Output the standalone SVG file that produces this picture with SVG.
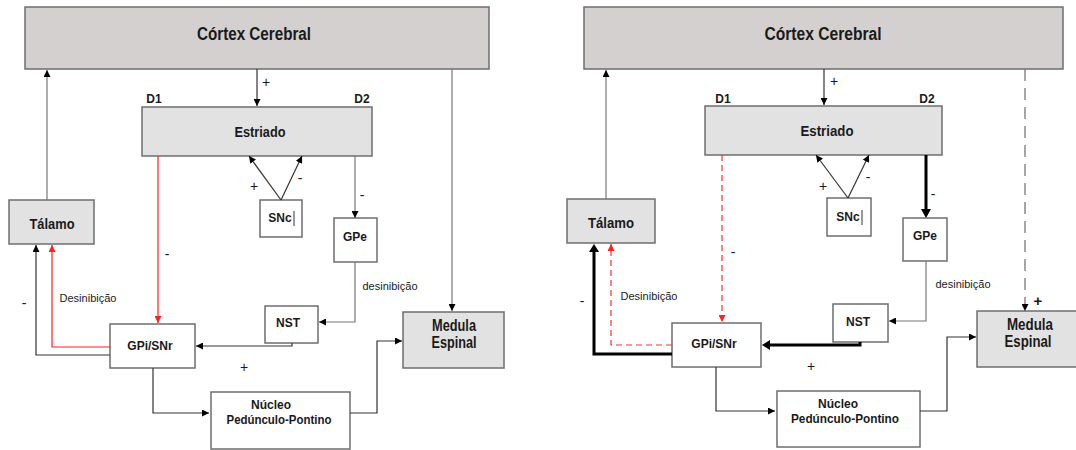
<svg xmlns="http://www.w3.org/2000/svg" width="1076" height="450" viewBox="0 0 1076 450">
<style>
.box{stroke:#6e6e6e;stroke-width:1.5;fill:#fff}
.g1{fill:#d4d0cf}
.g2{fill:#e2e2e2}
text{font-family:"Liberation Sans",Arial,sans-serif;fill:#1a1a1a;text-anchor:middle}
.big{font-size:17.5px;font-weight:bold}
.mid{font-size:15px;font-weight:bold}
.med{font-size:16px;font-weight:bold}
.sm{font-size:12px;font-weight:bold}
.lab{font-size:11px}
.sign{font-size:14px}
.ln{fill:none;stroke:#333;stroke-width:1.2}
.gl{fill:none;stroke:#777;stroke-width:1.2}
.red{fill:none;stroke:#ff2020;stroke-width:1.2}
.redd{fill:none;stroke:#ff3030;stroke-width:1.2;stroke-dasharray:6 4}
.thick{fill:none;stroke:#000;stroke-width:3}
.dash{fill:none;stroke:#777;stroke-width:1.3;stroke-dasharray:12 7}
</style>
<defs>
<marker id="ab" viewBox="0 0 10 10" refX="10" refY="5" markerWidth="7" markerHeight="7" markerUnits="userSpaceOnUse" orient="auto"><path d="M0,0 L10,5 L0,10 z" fill="#000"/></marker>
<marker id="ar" viewBox="0 0 10 10" refX="10" refY="5" markerWidth="7" markerHeight="7" markerUnits="userSpaceOnUse" orient="auto"><path d="M0,0 L10,5 L0,10 z" fill="#ff2020"/></marker>
</defs>

<!-- LEFT PANEL -->
<g id="L-cortex"><rect class="box g1" x="25" y="7" width="464" height="62"/><text class="big" x="254" y="40" textLength="114" lengthAdjust="spacingAndGlyphs">Córtex Cerebral</text></g>
<g id="L-estriado"><rect class="box g2" x="142" y="107" width="230" height="49"/><text class="mid" x="260" y="137" textLength="51" lengthAdjust="spacingAndGlyphs">Estriado</text><text class="sm" x="154" y="103">D1</text><text class="sm" x="362" y="103">D2</text></g>
<g id="L-talamo"><rect class="box g2" x="9" y="200" width="85" height="44"/><text class="mid" x="52" y="229" textLength="45" lengthAdjust="spacingAndGlyphs">Tálamo</text></g>
<g id="L-snc"><rect class="box" x="260" y="200" width="42" height="37"/><text class="sm" x="280" y="222">SNc</text><line x1="294" y1="211" x2="294" y2="226" stroke="#333" stroke-width="1"/></g>
<g id="L-gpe"><rect class="box" x="334" y="218" width="43" height="44"/><text class="sm" x="355" y="241">GPe</text></g>
<g id="L-nst"><rect class="box" x="265" y="306" width="53" height="37"/><text class="sm" x="288" y="327">NST</text></g>
<g id="L-gpi"><rect class="box" x="110" y="324" width="85" height="44"/><text class="sm" x="150" y="350">GPi/SNr</text></g>
<g id="L-nucleo"><rect class="box" x="211" y="392" width="139" height="57"/><text class="sm" x="271" y="409">Núcleo</text><text class="sm" x="279" y="424" textLength="105" lengthAdjust="spacingAndGlyphs">Pedúnculo-Pontino</text></g>
<g id="L-medula"><rect class="box g2" x="403" y="312" width="101" height="56"/><text class="med" x="454" y="331" textLength="44" lengthAdjust="spacingAndGlyphs">Medula</text><text class="med" x="454" y="348" textLength="45" lengthAdjust="spacingAndGlyphs">Espinal</text></g>

<g id="L-connectors">
<path class="ln" d="M257,69 V106" marker-end="url(#ab)"/>
<path class="gl" d="M47,200 V70" marker-end="url(#ab)"/>
<path class="gl" d="M452,69 V311" marker-end="url(#ab)"/>
<path class="ln" d="M281,200 L249,156" marker-end="url(#ab)"/>
<path class="ln" d="M281,200 L302,156" marker-end="url(#ab)"/>
<path class="gl" d="M355,156 V218" marker-end="url(#ab)"/>
<path class="gl" d="M355,262 V322 H319" marker-end="url(#ab)"/>
<path class="ln" d="M292,343 V346 H196" marker-end="url(#ab)"/>
<path class="red" d="M158,156 V323" marker-end="url(#ar)"/>
<path class="red" d="M110,347 H52 V245" marker-end="url(#ar)"/>
<path class="ln" d="M110,355 H36 V245" marker-end="url(#ab)"/>
<path class="ln" d="M153,368 V413 H209" marker-end="url(#ab)"/>
<path class="ln" d="M350,413 H377 V341 H402" marker-end="url(#ab)"/>
</g>
<g id="L-labels">
<text class="sign" x="266" y="87">+</text>
<text class="sign" x="254" y="191">+</text>
<text class="sign" x="300" y="183">-</text>
<text class="sign" x="362" y="200">-</text>
<text class="sign" x="167" y="259">-</text>
<text class="sign" x="24" y="308">-</text>
<text class="sign" x="244" y="372">+</text>
<text class="lab" x="88" y="302">Desinibição</text>
<text class="lab" x="390" y="290">desinibição</text>
</g>

<!-- RIGHT PANEL -->
<g id="R-cortex"><rect class="box g1" x="584" y="7" width="479" height="62"/><text class="big" x="823" y="40" textLength="117" lengthAdjust="spacingAndGlyphs">Córtex Cerebral</text></g>
<g id="R-estriado"><rect class="box g2" x="705" y="106" width="237" height="49"/><text class="mid" x="827" y="136" textLength="53" lengthAdjust="spacingAndGlyphs">Estriado</text><text class="sm" x="723" y="103">D1</text><text class="sm" x="927" y="103">D2</text></g>
<g id="R-talamo"><rect class="box g2" x="567" y="199" width="88" height="44"/><text class="mid" x="611" y="228" textLength="46" lengthAdjust="spacingAndGlyphs">Tálamo</text></g>
<g id="R-snc"><rect class="box" x="827" y="198" width="44" height="38"/><text class="sm" x="848" y="221">SNc</text><line x1="862" y1="210" x2="862" y2="225" stroke="#333" stroke-width="1"/></g>
<g id="R-gpe"><rect class="box" x="903" y="218" width="44" height="43"/><text class="sm" x="925" y="240">GPe</text></g>
<g id="R-nst"><rect class="box" x="833" y="304" width="55" height="38"/><text class="sm" x="858" y="326">NST</text></g>
<g id="R-gpi"><rect class="box" x="672" y="323" width="89" height="44"/><text class="sm" x="714" y="348">GPi/SNr</text></g>
<g id="R-nucleo"><rect class="box" x="777" y="391" width="143" height="56"/><text class="sm" x="838" y="408">Núcleo</text><text class="sm" x="845" y="423" textLength="108" lengthAdjust="spacingAndGlyphs">Pedúnculo-Pontino</text></g>
<g id="R-medula"><rect class="box g2" x="977" y="311" width="104" height="56"/><text class="med" x="1030" y="330" textLength="46" lengthAdjust="spacingAndGlyphs">Medula</text><text class="med" x="1028" y="347" textLength="47" lengthAdjust="spacingAndGlyphs">Espinal</text></g>

<g id="R-connectors">
<path class="ln" d="M824,69 V105" marker-end="url(#ab)"/>
<path class="gl" d="M606,199 V70" marker-end="url(#ab)"/>
<path class="dash" d="M1025,69 V311" marker-end="url(#ab)"/>
<path class="ln" d="M848,198 L816,155" marker-end="url(#ab)"/>
<path class="ln" d="M848,198 L869,155" marker-end="url(#ab)"/>
<path class="thick" d="M926,155 V210"/>
<path d="M921,209 L926,218 L931,209 z" fill="#000"/>
<path class="gl" d="M926,261 V321 H889" marker-end="url(#ab)"/>
<path class="thick" d="M860,342 V345 H770"/>
<path d="M770,340 L762,345 L770,350 z" fill="#000"/>
<path class="redd" d="M722,155 V322" marker-end="url(#ar)"/>
<path class="redd" d="M672,345 H611 V244" marker-end="url(#ar)"/>
<path class="thick" d="M672,354 H594 V252"/>
<path d="M589,252 L594,244 L599,252 z" fill="#000"/>
<path class="ln" d="M716,367 V411 H775" marker-end="url(#ab)"/>
<path class="ln" d="M920,411 H947 V337 H976" marker-end="url(#ab)"/>
</g>
<g id="R-labels">
<text class="sign" x="834" y="86">+</text>
<text class="sign" x="823" y="191">+</text>
<text class="sign" x="868" y="182">-</text>
<text class="sign" x="933" y="199">-</text>
<text class="sign" x="733" y="257">-</text>
<text class="sign" x="582" y="306">-</text>
<text class="sign" x="811" y="371">+</text>
<text class="sign" x="1038" y="306" style="font-weight:bold;font-size:15px">+</text>
<text class="lab" x="649" y="300">Desinibição</text>
<text class="lab" x="963" y="288">desinibição</text>
</g>
</svg>
